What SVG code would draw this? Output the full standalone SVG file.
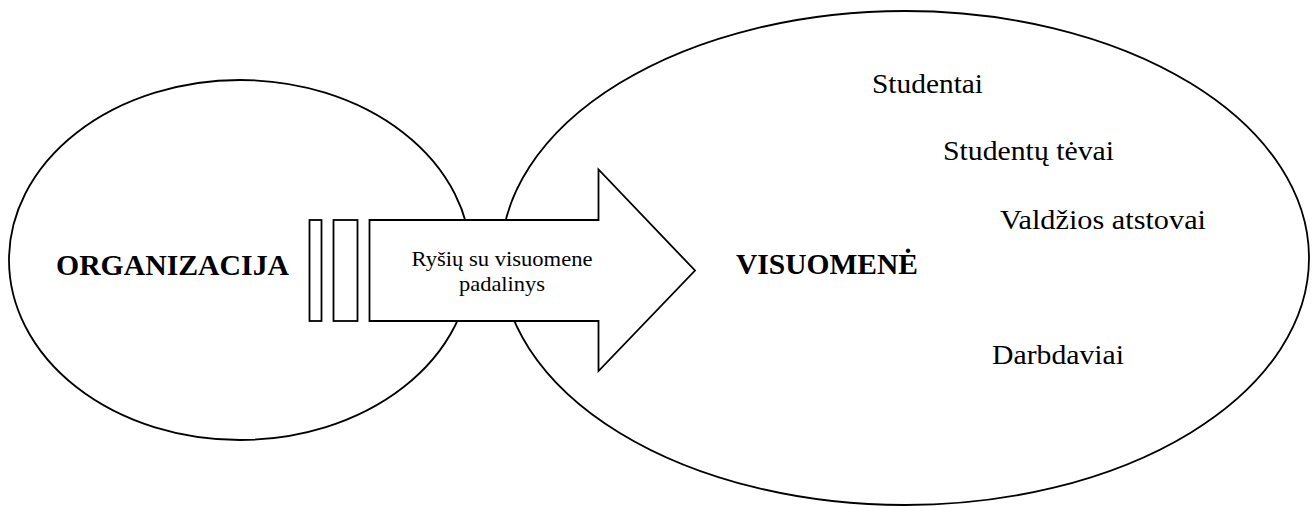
<svg xmlns="http://www.w3.org/2000/svg" width="1314" height="506" viewBox="0 0 1314 506">
<style>
.shape{fill:#fff;stroke:#000;stroke-width:1.8}
text{font-family:'Liberation Serif','Times New Roman',Times,serif;fill:#000}
.b{font-weight:bold}
</style>
<rect width="1314" height="506" fill="#fff"/>
<g id="organizacija">
<ellipse class="shape" cx="240" cy="260" rx="231" ry="180"/>
<text class="b" font-family="Liberation Serif, serif" x="56" y="275" font-size="30" textLength="233" lengthAdjust="spacingAndGlyphs">ORGANIZACIJA</text>
</g>
<g id="visuomene">
<ellipse class="shape" cx="905" cy="258" rx="404" ry="247"/>
<text class="b" font-family="Liberation Serif, serif" x="736" y="274" font-size="30" textLength="182" lengthAdjust="spacingAndGlyphs">VISUOMENĖ</text>
<text font-family="Liberation Serif, serif" x="872" y="93" font-size="28" textLength="111" lengthAdjust="spacingAndGlyphs">Studentai</text>
<text font-family="Liberation Serif, serif" x="943" y="160" font-size="28" textLength="171" lengthAdjust="spacingAndGlyphs">Studentų tėvai</text>
<text font-family="Liberation Serif, serif" x="1000" y="229" font-size="28" textLength="206" lengthAdjust="spacingAndGlyphs">Valdžios atstovai</text>
<text font-family="Liberation Serif, serif" x="992" y="364" font-size="28" textLength="132" lengthAdjust="spacingAndGlyphs">Darbdaviai</text>
</g>
<g id="bars">
<rect class="shape" x="309.5" y="220" width="12" height="101"/>
<rect class="shape" x="333.5" y="220" width="24" height="101"/>
</g>
<g id="padalinys">
<path class="shape" d="M369.5,220 H598.5 V169.5 L695,270.5 L598.5,371 V321 H369.5 Z"/>
<text font-family="Liberation Serif, serif" x="502" y="266" font-size="21.5" text-anchor="middle" textLength="181" lengthAdjust="spacingAndGlyphs">Ryšių su visuomene</text>
<text font-family="Liberation Serif, serif" x="502" y="290.7" font-size="21.5" text-anchor="middle" textLength="86" lengthAdjust="spacingAndGlyphs">padalinys</text>
</g>
<g id="connectors"/>
</svg>
